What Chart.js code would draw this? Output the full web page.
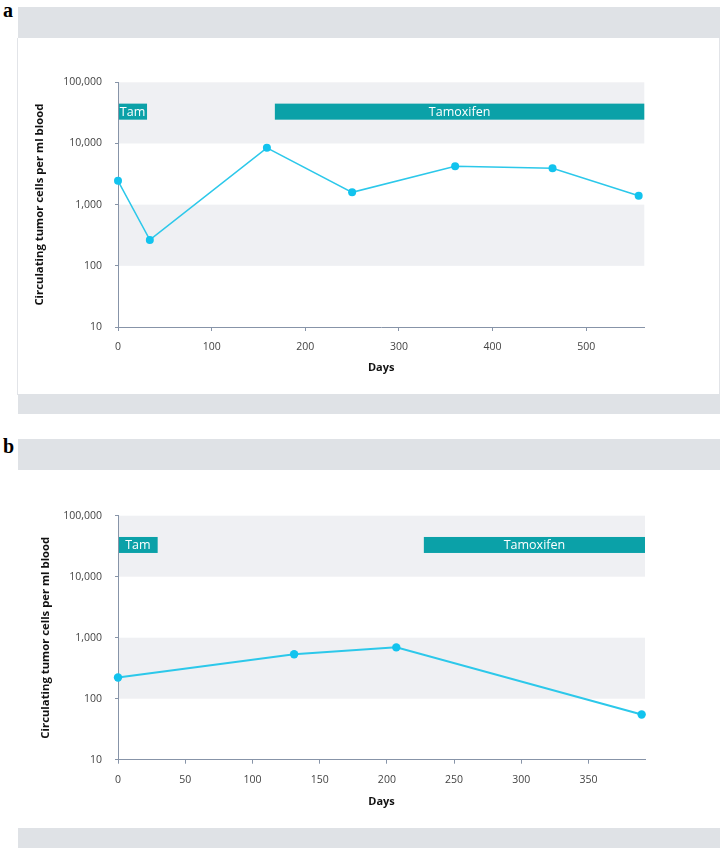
<!DOCTYPE html>
<html>
<head>
<meta charset="utf-8">
<script src="https://cdn.jsdelivr.net/npm/chart.js@4"></script>
<style>
  body { margin:0; width:725px; height:852px; position:relative; background:#fff; overflow:hidden; }
  .band { position:absolute; left:18px; width:702px; background:#dfe2e6; }
  .frame { position:absolute; left:17px; width:701px; border-left:1px solid #e2e4e8; border-right:1px solid #e2e4e8; }
  .lbl { position:absolute; left:3px; font:bold 20px "Liberation Serif", serif; line-height:20px; color:#000; }
  canvas { position:absolute; left:18px; }
</style>
</head>
<body>
<div class="lbl" style="top:0">a</div>
<div class="band" style="top:7px;height:31px"></div>
<div class="frame" style="top:38px;height:357px"></div>
<canvas id="chartA" width="702" height="357" style="top:38px;width:702px;height:357px"></canvas>
<div class="band" style="top:394px;height:20px"></div>

<div class="lbl" style="top:436px">b</div>
<div class="band" style="top:439px;height:31px"></div>
<canvas id="chartB" width="702" height="358" style="top:470px;width:702px;height:358px"></canvas>
<div class="band" style="top:828px;height:20px"></div>

<script>
// ── data ──
var daysA = [0, 34, 159, 250, 360, 464, 556];
var cellsA = [2450, 265, 8500, 1590, 4230, 3920, 1400];
var xTicksA = [0, 100, 200, 300, 400, 500];
var treatA = [['Tam', 0, 31], ['Tamoxifen', 167.5, 562]];

var daysB = [0, 131, 207, 389.5];
var cellsB = [223, 535, 694, 55];
var xTicksB = [0, 50, 100, 150, 200, 250, 300, 350];
var treatB = [['Tam', 0, 29.5], ['Tamoxifen', 227.5, 392]];

var yTicks = [10, 100, 1000, 10000, 100000];
var shadedDecades = [[100, 1000], [10000, 100000]];
var treatRange = [24500, 44800];

var FONT = '"Open Sans", sans-serif';
var AXIS = '#8794a8';

// shaded decade bands + treatment bars, drawn under everything
function treatPlugin(treatments) {
    return {
        id: 'treat',
        beforeDraw: function(chart) {
            var ctx = chart.ctx, a = chart.chartArea, xs = chart.scales.x, ys = chart.scales.y;
            ctx.save();
            ctx.fillStyle = '#eff0f3';
            shadedDecades.forEach(function(s) {
                var t = ys.getPixelForValue(s[1]), b = ys.getPixelForValue(s[0]);
                ctx.fillRect(a.left, t, a.right - a.left, b - t);
            });
            var bt = ys.getPixelForValue(treatRange[1]), bb = ys.getPixelForValue(treatRange[0]);
            treatments.forEach(function(tr) {
                var l = xs.getPixelForValue(tr[1]), r = xs.getPixelForValue(tr[2]);
                ctx.fillStyle = '#0ba1a8';
                ctx.fillRect(l, bt, r - l, bb - bt);
                ctx.fillStyle = '#fff';
                ctx.font = '12.5px ' + FONT;
                ctx.textAlign = 'center'; ctx.textBaseline = 'middle';
                ctx.fillText(tr[0], (l + r) / 2, (bt + bb) / 2 + 0.5);
            });
            ctx.restore();
        }
    };
}

function makeChart(id, days, cells, xMax, xTicks, treatments, o) {
    return new Chart(document.getElementById(id), {
        type: 'line',
        data: { datasets: [{
            data: days.map(function(d, i) { return { x: d, y: cells[i] }; }),
            borderColor: '#2cc8ea', borderWidth: o.lw, tension: 0, clip: false,
            pointRadius: o.pr, pointBorderWidth: 0, pointBackgroundColor: '#12c3ee', pointHoverRadius: o.pr
        }] },
        plugins: [treatPlugin(treatments)],
        options: {
            responsive: false, devicePixelRatio: 1, animation: false,
            layout: { padding: { top: o.top, right: o.right, bottom: 0, left: 0 } },
            plugins: { legend: { display: false }, tooltip: { enabled: false } },
            scales: {
                x: {
                    type: 'linear', min: 0, max: xMax,
                    afterBuildTicks: function(s) { s.ticks = xTicks.map(function(v) { return { value: v }; }); },
                    afterFit: function(s) { s.height = o.xh; },
                    grid: { drawOnChartArea: false, drawTicks: true, tickLength: 4, tickColor: AXIS },
                    border: { color: AXIS, width: 1 },
                    ticks: { color: '#444', font: { family: FONT, size: 10.5 }, padding: 10, maxRotation: 0 },
                    title: { display: true, text: 'Days', color: '#111', font: { family: FONT, size: 11, weight: 'bold' }, padding: { top: 0, bottom: o.daysPad } }
                },
                y: {
                    type: 'logarithmic', min: 10, max: 100000,
                    afterBuildTicks: function(s) { s.ticks = yTicks.map(function(v) { return { value: v }; }); },
                    afterFit: function(s) { s.width = 100; },
                    grid: { drawOnChartArea: false, drawTicks: true, tickLength: 3, tickColor: AXIS },
                    border: { color: AXIS, width: 1 },
                    ticks: { color: '#444', font: { family: FONT, size: 10.5 }, padding: 13,
                        callback: function(v) { return Number(v).toLocaleString('en-US'); } },
                    title: { display: true, text: 'Circulating tumor cells per ml blood', color: '#111',
                        font: { family: FONT, size: 11.3, weight: 'bold' }, padding: { top: o.titlePad, bottom: 0 } }
                }
            }
        }
    });
}

makeChart('chartA', daysA, cellsA, 562, xTicksA, treatA,
    { lw: 1.5, pr: 4, top: 44.3, right: 75.7, xh: 68, daysPad: 20.7, titlePad: 15.2 });
makeChart('chartB', daysB, cellsB, 392, xTicksB, treatB,
    { lw: 2, pr: 4.2, top: 45.7, right: 75, xh: 68.3, daysPad: 19.7, titlePad: 20.9 });
</script>
</body>
</html>
